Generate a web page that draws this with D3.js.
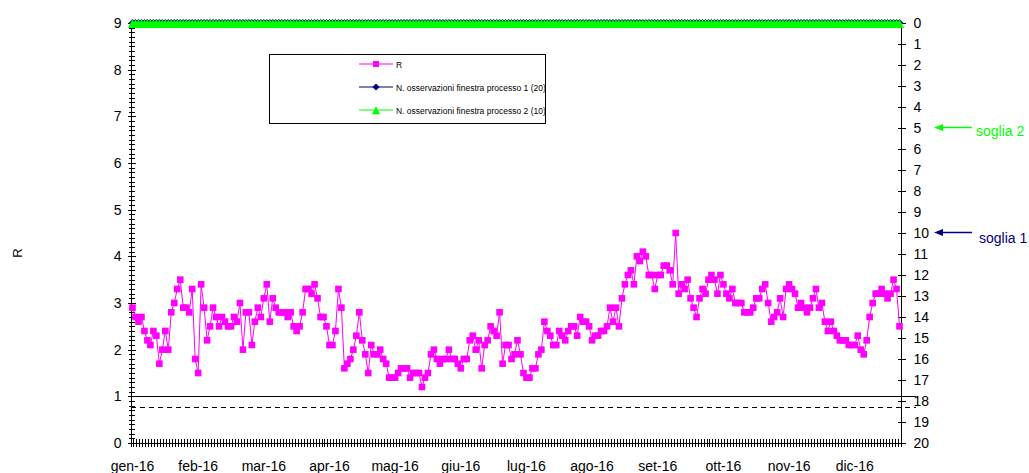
<!DOCTYPE html>
<html><head><meta charset="utf-8">
<script src="https://cdn.jsdelivr.net/npm/d3@7"></script>
<style>
body{margin:0;background:#fff;}
text{font-family:"Liberation Sans",Arial,sans-serif;}
</style>
</head><body>
<svg id="c" width="1029" height="473"></svg>
<script>
const rValues = [
2.9,2.7,2.6,2.7,2.4,2.2,2.1,2.4,2.3,1.7,
2.0,2.4,2.0,2.8,3.0,3.3,3.5,2.9,2.9,2.8,
3.3,1.8,1.5,3.4,
2.9,2.2,2.5,2.9,2.7,2.5,2.7,2.6,2.5,2.5,
2.7,2.6,3.0,2.0,2.8,2.8,2.1,2.6,2.9,2.7,
3.1,3.4,2.6,3.1,2.9,2.8,2.8,2.8,2.7,2.8,
2.5,2.4,2.5,2.8,3.3,3.3,3.2,3.4,3.1,2.7,
2.7,2.5,2.1,2.1,2.4,3.3,2.9,1.6,1.7,1.8,
2.0,2.3,2.8,2.2,1.9,1.5,2.1,1.9,1.9,2.0,
1.8,1.7,1.4,1.4,1.4,1.5,1.6,1.6,1.6,1.4,
1.5,1.5,1.5,1.2,1.4,1.5,1.9,2.0,1.8,1.7,
1.8,1.8,2.0,1.8,1.8,1.7,1.6,1.8,
1.8,2.2,2.3,2.0,2.2,1.6,2.1,2.2,2.5,2.4,
2.3,2.8,1.7,2.1,2.1,1.8,1.9,2.2,1.9,
1.5,1.4,1.4,1.6,1.6,1.9,2.0,2.6,2.4,
2.3,2.1,2.1,2.4,2.3,2.2,2.4,2.5,2.5,
2.3,2.7,2.6,2.6,2.5,2.2,2.3,2.3,2.4,2.4,
2.5,2.9,2.6,2.9,2.5,3.1,3.4,3.6,3.7,3.4,
4.0,3.9,4.1,4.0,3.6,3.6,3.3,3.6,3.6,3.8,
3.8,3.7,3.4,4.5,3.2,3.4,3.3,3.5,3.1,2.9,
2.7,3.1,3.3,3.2,3.5,3.6,3.5,3.2,3.6,3.4,
3.2,3.1,3.3,3.0,3.0,3.0,2.8,2.8,2.8,2.9,
3.1,3.1,3.3,3.4,3.0,2.6,2.7,2.8,3.1,2.7,
3.3,3.4,3.3,3.2,2.9,3.0,2.9,2.8,2.9,
3.1,3.3,2.9,3.0,2.6,2.4,2.6,2.4,2.3,2.2,
2.2,2.2,2.1,2.1,2.1,2.3,2.0,1.9,2.2,2.7,
3.0,3.2,3.2,3.3,3.2,3.1,3.2,3.5,3.3,2.5
];
const obsWindow1 = [
0,0,0,0,0,0,0,0,0,0, 0,0,0,0,0,0,0,0,0,0, 0,0,0,0,0,0,0,0,0,0,
0,0,0,0,0,0,0,0,0,0, 0,0,0,0,0,0,0,0,0,0, 0,0,0,0,0,0,0,0,0,0,
0,0,0,0,0,0,0,0,0,0, 0,0,0,0,0,0,0,0,0,0, 0,0,0,0,0,0,0,0,0,0,
0,0,0,0,0,0,0,0,0,0, 0,0,0,0,0,0,0,0,0,0, 0,0,0,0,0,0,0,0,0,0,
0,0,0,0,0,0,0,0,0,0, 0,0,0,0,0,0,0,0,0,0, 0,0,0,0,0,0,0,0,0,0,
0,0,0,0,0,0,0,0,0,0, 0,0,0,0,0,0,0,0,0,0, 0,0,0,0,0,0,0,0,0,0,
0,0,0,0,0,0,0,0,0,0, 0,0,0,0,0,0,0,0,0,0, 0,0,0,0,0,0,0,0,0,0,
0,0,0,0,0,0,0,0,0,0, 0,0,0,0,0,0,0,0,0,0, 0,0,0,0,0,0,0,0,0,0,
0,0,0,0,0,0,0,0,0,0, 0,0,0,0,0,0,0,0
];
const obsWindow2 = [
0,0,0,0,0,0,0,0,0,0, 0,0,0,0,0,0,0,0,0,0, 0,0,0,0,0,0,0,0,0,0,
0,0,0,0,0,0,0,0,0,0, 0,0,0,0,0,0,0,0,0,0, 0,0,0,0,0,0,0,0,0,0,
0,0,0,0,0,0,0,0,0,0, 0,0,0,0,0,0,0,0,0,0, 0,0,0,0,0,0,0,0,0,0,
0,0,0,0,0,0,0,0,0,0, 0,0,0,0,0,0,0,0,0,0, 0,0,0,0,0,0,0,0,0,0,
0,0,0,0,0,0,0,0,0,0, 0,0,0,0,0,0,0,0,0,0, 0,0,0,0,0,0,0,0,0,0,
0,0,0,0,0,0,0,0,0,0, 0,0,0,0,0,0,0,0,0,0, 0,0,0,0,0,0,0,0,0,0,
0,0,0,0,0,0,0,0,0,0, 0,0,0,0,0,0,0,0,0,0, 0,0,0,0,0,0,0,0,0,0,
0,0,0,0,0,0,0,0,0,0, 0,0,0,0,0,0,0,0,0,0, 0,0,0,0,0,0,0,0,0,0,
0,0,0,0,0,0,0,0,0,0, 0,0,0,0,0,0,0,0
];
const monthLabels = ["gen-16","feb-16","mar-16","apr-16","mag-16","giu-16","lug-16","ago-16","set-16","ott-16","nov-16","dic-16"];
const labelEvery = 22;
const leftTicks = [0,1,2,3,4,5,6,7,8,9];
const rightTicks = [0,1,2,3,4,5,6,7,8,9,10,11,12,13,14,15,16,17,18,19,20];
const limitSolid = 1;
const limitDashed = 0.77;
const thresholds = [
  {label:"soglia 2", value:5, color:"#00ff00"},
  {label:"soglia 1", value:10, color:"#000080"}
];
const legendItems = [
  {label:"R", color:"#ff00ff", shape:"square"},
  {label:"N. osservazioni finestra processo 1 (20)", color:"#000080", shape:"diamond"},
  {label:"N. osservazioni finestra processo 2 (10)", color:"#00ff00", shape:"triangle"}
];

const svg = d3.select("#c");
const L = 131, R = 901, T = 23, B = 443;
const n = rValues.length;
const x = d3.scaleBand().domain(d3.range(n)).range([L, R]).padding(0);
const bw = x.bandwidth();
const cx = i => x(i) + bw / 2;
const yL = d3.scaleLinear().domain([0, 9]).range([B, T]);
const yR = d3.scaleLinear().domain([0, 20]).range([T, B]);

const shapes = {
  square: "M-3.3,-3.3H3.3V3.3H-3.3Z",
  diamond: "M0,-4L4,0L0,4L-4,0Z",
  triangle: "M0,-4.2L4.6,4.6L-4.6,4.6Z"
};

// threshold lines
svg.append("line").attr("x1", L).attr("x2", 916)
  .attr("y1", Math.round(yL(limitSolid)) + 0.5).attr("y2", Math.round(yL(limitSolid)) + 0.5)
  .attr("stroke", "#000").attr("stroke-width", 1);
svg.append("line").attr("x1", L).attr("x2", 916)
  .attr("y1", Math.round(yL(limitDashed)) + 0.5).attr("y2", Math.round(yL(limitDashed)) + 0.5)
  .attr("stroke", "#000").attr("stroke-width", 1).attr("stroke-dasharray", "5,4");

// bottom axis category ticks
const gB = svg.append("g").attr("shape-rendering", "crispEdges");
gB.append("line").attr("x1", L).attr("x2", R).attr("y1", B + 0.5).attr("y2", B + 0.5).attr("stroke", "#000");
gB.selectAll("line.t").data(d3.range(n + 1)).join("line").attr("class", "t")
  .attr("x1", i => L + i * bw).attr("x2", i => L + i * bw)
  .attr("y1", B - 4).attr("y2", B + 4).attr("stroke", "#000");
gB.selectAll("text").data(monthLabels).join("text")
  .attr("x", (d, k) => cx(k * labelEvery)).attr("y", 471)
  .attr("text-anchor", "middle").attr("font-size", 14).attr("fill", "#000")
  .text(d => d);

// left axis
const gL = svg.append("g").attr("transform", `translate(${L + 0.5},0)`);
gL.call(d3.axisLeft(yL).tickValues(d3.range(0, 90.5, 1).map(v => v / 10)).tickSize(3).tickFormat(""));
gL.selectAll(".tick line").attr("x1", 3);
const gL2 = svg.append("g").attr("transform", `translate(${L + 0.5},0)`);
gL2.call(d3.axisLeft(yL).tickValues(leftTicks).tickSize(4).tickPadding(6).tickFormat(d3.format("d")));
gL2.selectAll(".tick line").attr("x1", 4);
gL2.selectAll("text").attr("font-size", 14).attr("font-family", "'Liberation Sans',Arial,sans-serif");
[gL, gL2].forEach(g => { g.select(".domain").remove(); g.attr("shape-rendering", "crispEdges"); });
svg.append("line").attr("x1", L + 0.5).attr("x2", L + 0.5).attr("y1", T).attr("y2", B + 4).attr("stroke", "#000");

// right axis
const gR = svg.append("g").attr("transform", `translate(${R + 0.5},0)`);
gR.call(d3.axisRight(yR).tickValues(rightTicks).tickSize(4).tickPadding(8).tickFormat(d3.format("d")));
gR.selectAll(".tick line").attr("x1", -4);
gR.select(".domain").remove();
gR.attr("shape-rendering", "crispEdges");
gR.selectAll("text").attr("font-size", 14).attr("font-family", "'Liberation Sans',Arial,sans-serif");
svg.append("line").attr("x1", R + 0.5).attr("x2", R + 0.5).attr("y1", T).attr("y2", B + 4).attr("stroke", "#000");

// axis title
svg.append("text").attr("transform", "translate(22,253) rotate(-90)")
  .attr("text-anchor", "middle").attr("font-size", 13).text("R");

// series R
svg.append("path").datum(rValues)
  .attr("d", d3.line().x((d, i) => cx(i)).y(d => yL(d)))
  .attr("fill", "none").attr("stroke", "#ff00ff").attr("stroke-width", 1);
svg.selectAll("path.mr").data(rValues).join("path").attr("class", "mr")
  .attr("d", shapes.square).attr("transform", (d, i) => `translate(${cx(i)},${yL(d)})`)
  .attr("fill", "#ff00ff");

// series obs window 1 (navy)
svg.append("path").datum(obsWindow1)
  .attr("d", d3.line().x((d, i) => cx(i)).y(d => yR(d)))
  .attr("fill", "none").attr("stroke", "#000080").attr("stroke-width", 1);
svg.selectAll("path.m1").data(obsWindow1).join("path").attr("class", "m1")
  .attr("d", shapes.diamond).attr("transform", (d, i) => `translate(${cx(i)},${yR(d)})`)
  .attr("fill", "#000080");

// series obs window 2 (green)
svg.append("path").datum(obsWindow2)
  .attr("d", d3.line().x((d, i) => cx(i)).y(d => yR(d)))
  .attr("fill", "none").attr("stroke", "#00ff00").attr("stroke-width", 1);
svg.selectAll("path.m2").data(obsWindow2).join("path").attr("class", "m2")
  .attr("d", shapes.triangle).attr("transform", (d, i) => `translate(${cx(i)},${yR(d) + 0.5})`)
  .attr("fill", "#00ff00");

// legend
const lg = svg.append("g");
lg.append("rect").attr("x", 269.5).attr("y", 54.5).attr("width", 276).attr("height", 69)
  .attr("fill", "#fff").attr("stroke", "#000").attr("stroke-width", 1);
legendItems.forEach((it, k) => {
  const yy = 64 + k * 23;
  lg.append("line").attr("x1", 359).attr("x2", 393).attr("y1", yy).attr("y2", yy)
    .attr("stroke", it.color).attr("stroke-width", 1.2);
  lg.append("path").attr("d", shapes[it.shape]).attr("transform", `translate(376,${yy}) scale(0.9)`).attr("fill", it.color);
  lg.append("text").attr("x", 396).attr("y", yy + 3.5).attr("font-size", 8.5).text(it.label);
});

// threshold annotations
thresholds.forEach((t, k) => {
  const yy = Math.round(yR(t.value)) - 0.5;
  const g = svg.append("g");
  g.append("line").attr("x1", 941).attr("x2", 972).attr("y1", yy).attr("y2", yy)
    .attr("stroke", t.color).attr("stroke-width", 1.5);
  g.append("path").attr("d", `M934,${yy}L943,${yy - 3.5}L943,${yy + 3.5}Z`).attr("fill", t.color);
  g.append("text").attr("x", k === 0 ? 976 : 979).attr("y", yy + (k === 0 ? 8 : 10))
    .attr("font-size", 14).attr("fill", t.color).text(t.label);
});
</script>
</body></html>
